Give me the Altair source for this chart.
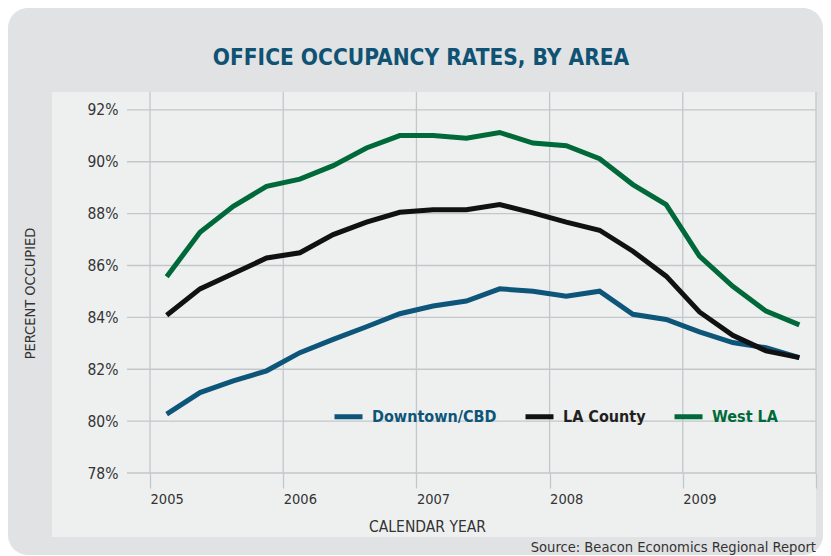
import altair as alt
import pandas as pd

# ---- data ----
quarters = [
    "2005 Q1", "2005 Q2", "2005 Q3", "2005 Q4",
    "2006 Q1", "2006 Q2", "2006 Q3", "2006 Q4",
    "2007 Q1", "2007 Q2", "2007 Q3", "2007 Q4",
    "2008 Q1", "2008 Q2", "2008 Q3", "2008 Q4",
    "2009 Q1", "2009 Q2", "2009 Q3", "2009 Q4",
]
downtown = [80.27, 81.10, 81.55, 81.94, 82.64, 83.15, 83.64, 84.14, 84.44, 84.63,
            85.10, 85.01, 84.82, 85.01, 84.12, 83.92, 83.44, 83.03, 82.83, 82.45]
la_county = [84.08, 85.10, 85.69, 86.29, 86.49, 87.19, 87.67, 88.05, 88.15, 88.15,
             88.35, 88.03, 87.67, 87.36, 86.55, 85.59, 84.21, 83.31, 82.71, 82.45]
west_la = [85.57, 87.28, 88.28, 89.05, 89.33, 89.85, 90.53, 91.01, 91.01, 90.91,
           91.13, 90.72, 90.62, 90.12, 89.12, 88.35, 86.36, 85.20, 84.24, 83.71]

series_names = ["Downtown/CBD", "LA County", "West LA"]
series_colors = ["#0d5579", "#111111", "#00693a"]
y_ticks = [78, 80, 82, 84, 86, 88, 90, 92]
x_ticks = [2005, 2006, 2007, 2008, 2009, 2010]

title_text = "OFFICE OCCUPANCY RATES, BY AREA"
source_text = "Source: Beacon Economics Regional Report"


def quarter_pos(q):
    year, qq = q.split(" Q")
    return int(year) + (int(qq) - 0.5) / 4


rows = []
for name, vals in zip(series_names, [downtown, la_county, west_la]):
    for q, v in zip(quarters, vals):
        rows.append({"quarter": q, "t": quarter_pos(q), "area": name, "value": v})
df = pd.DataFrame(rows)

NARROW = "DejaVu Sans Condensed, Liberation Sans Narrow, sans-serif"
GRID = "#c3c7ca"
TEXT = "#333333"

W, H = 689, 381
x_scale = alt.Scale(domain=[2004.827, 2010], nice=False, zero=False)
y_scale = alt.Scale(domain=[78, 92.69], nice=False, zero=False)

x_axis = alt.Axis(
    values=x_ticks, format="d",
    labelExpr="datum.value >= 2010 ? '' : datum.label",
    grid=False, domain=False, ticks=True, tickSize=15,
    tickColor=GRID, tickWidth=1.3,
    labelAlign="left", labelBaseline="top", labelPadding=4,
    labelFont=NARROW, labelFontSize=14.5, labelColor=TEXT,
    labelFlush=False, labelOverlap=False,
    title="CALENDAR YEAR", titleX=300, titleY=53,
    titleBaseline="middle", titleAlign="center",
    titleFont=NARROW, titleFontSize=15.5, titleFontWeight="normal",
    titleColor=TEXT, zindex=1,
)
y_axis = alt.Axis(
    values=y_ticks, labelExpr="datum.value + '%'",
    grid=False, domain=False, ticks=False, labelPadding=9,
    labelFont=NARROW, labelFontSize=15.5, labelColor=TEXT,
    title="PERCENT OCCUPIED", titleX=-97, titleY=201, titleAngle=-90,
    titleBaseline="middle", titleAlign="center",
    titleFont=NARROW, titleFontSize=14.5, titleFontWeight="normal",
    titleColor=TEXT, zindex=1,
)

one = pd.DataFrame({"k": [0]})

bg_gray = alt.Chart(one).mark_rect(color="#e1e2e3", cornerRadius=20).encode(
    x=alt.value(-119), x2=alt.value(696), y=alt.value(-84), y2=alt.value(463)
)
bg_light = alt.Chart(one).mark_rect(color="#eef0f0").encode(
    x=alt.value(-75), x2=alt.value(689), y=alt.value(0), y2=alt.value(445)
)

hgrid = alt.Chart(pd.DataFrame({"value": y_ticks})).mark_rule(
    color=GRID, strokeWidth=1.3
).encode(y=alt.Y("value:Q", scale=y_scale, axis=y_axis))

vgrid = alt.Chart(pd.DataFrame({"t": x_ticks})).mark_rule(
    color=GRID, strokeWidth=1.3
).encode(x=alt.X("t:Q", scale=x_scale, axis=x_axis))

label_color_expr = (
    "datum.label == 'Downtown/CBD' ? '#0d5579' : "
    "(datum.label == 'West LA' ? '#00693a' : '#231f20')"
)

lines = alt.Chart(df).mark_line(strokeWidth=5, strokeJoin="miter").encode(
    x=alt.X("t:Q", scale=x_scale, axis=x_axis),
    y=alt.Y("value:Q", scale=y_scale, axis=y_axis),
    color=alt.Color(
        "area:N",
        scale=alt.Scale(domain=series_names, range=series_colors),
        legend=alt.Legend(
            title=None, orient="none", legendX=205, legendY=308,
            direction="horizontal", columns=3, padding=0,
            symbolType="stroke", symbolStrokeWidth=5, symbolSize=784,
            labelFont=NARROW, labelFontSize=16, labelFontWeight="bold",
            labelColor={"expr": label_color_expr},
            labelOffset=7, columnPadding=18,
        ),
    ),
)

title_mark = alt.Chart(pd.DataFrame({"txt": [title_text]})).mark_text(
    font=NARROW, fontSize=22.5, fontWeight="bold", color="#0f5273",
    align="center", baseline="alphabetic",
).encode(x=alt.value(294), y=alt.value(-27), text="txt:N")

source_mark = alt.Chart(pd.DataFrame({"txt": [source_text]})).mark_text(
    font=NARROW, fontSize=14.6, color=TEXT, align="right", baseline="middle",
).encode(x=alt.value(689), y=alt.value(456), text="txt:N")

chart = alt.layer(
    bg_gray, bg_light, hgrid, vgrid, lines, title_mark, source_mark
).properties(
    width=W, height=H,
    autosize=alt.AutoSizeParams(type="none"),
    padding={"left": 119, "top": 84, "right": 7, "bottom": 82},
    background="white",
).configure_view(strokeWidth=0)

chart.save("out.html", embed_options={"renderer": "svg", "actions": False})
